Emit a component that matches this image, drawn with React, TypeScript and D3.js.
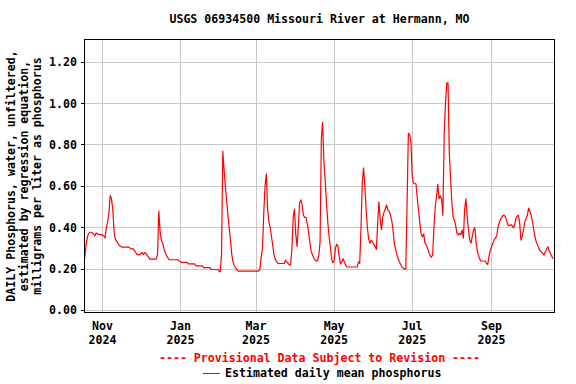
import * as d3 from 'd3';

// Daily estimated phosphorus (mg/L), first value is Oct 18 2024
const startDate = Date.UTC(2024, 9, 18);

const oct2024 = [0.25, 0.31, 0.35, 0.37, 0.378, 0.378, 0.375, 0.37, 0.36, 0.375, 0.37, 0.368, 0.368, 0.365];
const nov2024 = [0.365, 0.36, 0.35, 0.4, 0.43, 0.47, 0.556, 0.54, 0.49, 0.38, 0.345, 0.335, 0.325, 0.315, 0.31,
  0.306, 0.306, 0.306, 0.306, 0.306, 0.306, 0.305, 0.298, 0.298, 0.298, 0.29, 0.28, 0.27, 0.27, 0.27];
const dec2024 = [0.275, 0.28, 0.27, 0.28, 0.275, 0.265, 0.258, 0.248, 0.248, 0.248, 0.248, 0.248, 0.248, 0.27,
  0.48, 0.38, 0.34, 0.325, 0.3, 0.28, 0.265, 0.255, 0.245, 0.245, 0.245, 0.245, 0.245, 0.245, 0.245, 0.245, 0.238];
const jan2025 = [0.235, 0.232, 0.232, 0.232, 0.232, 0.232, 0.225, 0.225, 0.225, 0.225, 0.225, 0.225,
  0.215, 0.215, 0.215, 0.215, 0.215, 0.215, 0.207, 0.207, 0.207, 0.207, 0.207, 0.207,
  0.198, 0.198, 0.198, 0.198, 0.198, 0.198, 0.19];
const feb2025 = [0.187, 0.27, 0.77, 0.68, 0.6, 0.53, 0.46, 0.4, 0.34, 0.27, 0.235, 0.215, 0.205, 0.198,
  0.19, 0.19, 0.19, 0.19, 0.19, 0.19, 0.19, 0.19, 0.19, 0.19, 0.19, 0.19, 0.19, 0.19];
const mar2025 = [0.19, 0.19, 0.19, 0.2, 0.26, 0.3, 0.47, 0.6, 0.66, 0.49, 0.43, 0.4, 0.36, 0.315, 0.27, 0.248, 0.237,
  0.227, 0.227, 0.227, 0.227, 0.227, 0.227, 0.243, 0.235, 0.228, 0.22, 0.22, 0.3, 0.45, 0.49];
const apr2025 = [0.37, 0.31, 0.4, 0.52, 0.535, 0.51, 0.46, 0.45, 0.45, 0.42, 0.38, 0.33, 0.285, 0.27, 0.255,
  0.245, 0.238, 0.24, 0.265, 0.33, 0.83, 0.91, 0.72, 0.63, 0.52, 0.43, 0.36, 0.31, 0.25, 0.23];
const may2025 = [0.24, 0.3, 0.32, 0.31, 0.26, 0.225, 0.235, 0.25, 0.235, 0.22, 0.21, 0.21, 0.21, 0.21, 0.21,
  0.21, 0.21, 0.21, 0.21, 0.235, 0.228, 0.4, 0.62, 0.69, 0.6, 0.49, 0.4, 0.345, 0.325, 0.34, 0.33];
const jun2025 = [0.32, 0.31, 0.295, 0.42, 0.525, 0.44, 0.39, 0.45, 0.475, 0.49, 0.51, 0.485, 0.48, 0.46, 0.435,
  0.39, 0.325, 0.295, 0.27, 0.25, 0.235, 0.222, 0.21, 0.205, 0.199, 0.2, 0.52, 0.857, 0.85, 0.82];
const jul2025 = [0.65, 0.615, 0.615, 0.61, 0.54, 0.48, 0.42, 0.37, 0.356, 0.37, 0.325, 0.315, 0.3, 0.28, 0.265,
  0.257, 0.268, 0.4, 0.5, 0.55, 0.61, 0.54, 0.555, 0.54, 0.46, 0.85, 1.0, 1.1, 1.1, 0.76, 0.64];
const aug2025 = [0.52, 0.45, 0.437, 0.41, 0.373, 0.365, 0.373, 0.365, 0.39, 0.35, 0.49, 0.54, 0.45, 0.39, 0.34,
  0.325, 0.36, 0.39, 0.4, 0.325, 0.284, 0.262, 0.245, 0.239, 0.239, 0.239, 0.239, 0.228, 0.222, 0.26, 0.29];
const sep2025 = [0.308, 0.325, 0.34, 0.35, 0.36, 0.4, 0.425, 0.44, 0.45, 0.46, 0.46, 0.45, 0.43, 0.41, 0.41,
  0.416, 0.41, 0.4, 0.41, 0.445, 0.457, 0.46, 0.42, 0.34, 0.36, 0.39, 0.43, 0.444, 0.46, 0.495];
const oct2025 = [0.48, 0.46, 0.43, 0.39, 0.356, 0.33, 0.317, 0.3, 0.288, 0.282, 0.275, 0.268, 0.284, 0.295,
  0.308, 0.29, 0.276, 0.263, 0.25];

const yTicks = [0, 0.2, 0.4, 0.6, 0.8, 1.0, 1.2];
const xTicks = [
  { date: Date.UTC(2024, 10, 1), month: 'Nov', year: '2024' },
  { date: Date.UTC(2025, 0, 1), month: 'Jan', year: '2025' },
  { date: Date.UTC(2025, 2, 1), month: 'Mar', year: '2025' },
  { date: Date.UTC(2025, 4, 1), month: 'May', year: '2025' },
  { date: Date.UTC(2025, 6, 1), month: 'Jul', year: '2025' },
  { date: Date.UTC(2025, 8, 1), month: 'Sep', year: '2025' },
];

const title = 'USGS 06934500 Missouri River at Hermann, MO';
const yLabel = [
  'DAILY Phosphorus, water, unfiltered,',
  'estimated by regression equation,',
  'milligrams per liter as phosphorus',
];

const DAY = 86400000;
const values = [
  ...oct2024, ...nov2024, ...dec2024, ...jan2025, ...feb2025, ...mar2025,
  ...apr2025, ...may2025, ...jun2025, ...jul2025, ...aug2025, ...sep2025, ...oct2025,
];
const data = values.map((v, i) => ({ date: new Date(startDate + i * DAY), value: v }));

const font = "'DejaVu Sans Mono', monospace";

const App = () => {
  const width = 576;
  const height = 384;
  const plot = { left: 84.5, right: 554.5, top: 39.5, bottom: 312.5 };

  const x = d3
    .scaleUtc()
    .domain([new Date(Date.UTC(2024, 9, 17, 22)), new Date(Date.UTC(2025, 9, 20, 5))])
    .range([plot.left, plot.right]);

  const y = d3.scaleLinear().domain([-0.01, 1.31]).range([plot.bottom, plot.top]);

  const line = d3
    .line<{ date: Date; value: number }>()
    .x((d) => x(d.date))
    .y((d) => y(d.value));

  const snap = (v: number) => Math.round(v - 0.5) + 0.5;
  const cx = (plot.left + plot.right) / 2;
  const cy = (plot.top + plot.bottom) / 2;

  return (
    <svg width={width} height={height} style={{ display: 'block' }}>
      <style>{'body{margin:0}'}</style>
      <rect width={width} height={height} fill="#fff" />

      {/* gridlines */}
      <g stroke="#c8c8c8" strokeWidth={1} shapeRendering="crispEdges">
        {yTicks.map((t) => (
          <line key={t} x1={plot.left} x2={plot.right} y1={snap(y(t))} y2={snap(y(t))} />
        ))}
        {xTicks.map((t) => (
          <line key={t.month} x1={snap(x(new Date(t.date)))} x2={snap(x(new Date(t.date)))} y1={plot.top} y2={plot.bottom} />
        ))}
      </g>

      {/* data */}
      <path d={line(data) ?? ''} fill="none" stroke="#ff0000" strokeWidth={1.2} strokeLinejoin="round" />

      {/* frame */}
      <rect
        x={plot.left}
        y={plot.top}
        width={plot.right - plot.left}
        height={plot.bottom - plot.top}
        fill="none"
        stroke="#000"
        strokeWidth={1}
        shapeRendering="crispEdges"
      />

      {/* y axis */}
      <g fontFamily={font} fontWeight="bold" fontSize={11.6} fill="#000">
        {yTicks.map((t) => (
          <g key={t}>
            <line x1={plot.left - 4} x2={plot.left} y1={snap(y(t))} y2={snap(y(t))} stroke="#000" shapeRendering="crispEdges" />
            <text x={77} y={y(t) + 4} textAnchor="end">
              {t.toFixed(2)}
            </text>
          </g>
        ))}
        {yLabel.map((l, i) => (
          <text key={l} transform={`translate(${15 + i * 12.8},${cy}) rotate(-90)`} textAnchor="middle">
            {l}
          </text>
        ))}
      </g>

      {/* x axis */}
      <g fontFamily={font} fontWeight="bold" fontSize={11.6} fill="#000" textAnchor="middle">
        {xTicks.map((t) => (
          <g key={t.month}>
            <text x={x(new Date(t.date))} y={330}>
              {t.month}
            </text>
            <text x={x(new Date(t.date))} y={344}>
              {t.year}
            </text>
          </g>
        ))}
      </g>

      {/* title */}
      <text x={cx} y={23} fontFamily={font} fontWeight="bold" fontSize={11.6} textAnchor="middle">
        {title}
      </text>

      {/* legend */}
      <text x={cx} y={362} fontFamily={font} fontWeight="bold" fontSize={11.6} fill="#ff0000" textAnchor="middle">
        ---- Provisional Data Subject to Revision ----
      </text>
      <line x1={203} x2={220} y1={373.5} y2={373.5} stroke="#ff0000" strokeWidth={1} shapeRendering="crispEdges" />
      <text x={225} y={377} fontFamily={font} fontWeight="bold" fontSize={11.6} fill="#000">
        Estimated daily mean phosphorus
      </text>
    </svg>
  );
};

export default App;
